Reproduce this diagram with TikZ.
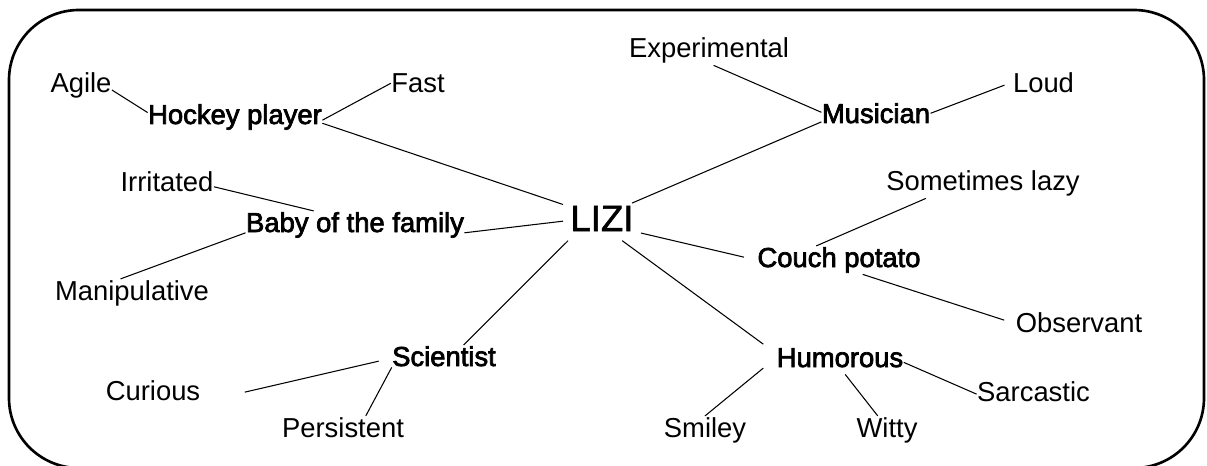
\documentclass[tikz,border=0pt]{standalone}
\usepackage{fontspec}
\setmainfont{Liberation Sans}
\newfontfamily\demifont[FakeBold=2.6]{Liberation Sans}
\newfontfamily\hubfont[FakeBold=1.6]{Liberation Sans}
\usetikzlibrary{calc}

\begin{document}
\begin{tikzpicture}[x=0.02cm, y=-0.02cm, line width=0.6pt,
    word/.style={anchor=base, inner sep=0pt, text height=11.7pt, text depth=3.9pt,
      font=\fontsize{15.6pt}{18pt}\selectfont},
    role/.style={word, font=\fontsize{15.6pt}{18pt}\demifont},
    hub/.style={anchor=base, inner xsep=4pt, inner ysep=0pt, text height=15.6pt,
      text depth=5.2pt, font=\fontsize{20.8pt}{24pt}\hubfont}]
    \useasboundingbox (0,0) rectangle (1207,466);
    \draw [line width=1.5pt, rounded corners=1.4cm] (9,10) rectangle (1204,468);
    % centre and the six roles
    \node (lizi) at (602,231) [hub] {LIZI};
    \node (hockey) at (235,124) [role] {Hockey player};
    \node (baby) at (355,232) [role] {Baby of the family};
    \node (scientist) at (444,366) [role] {Scientist};
    \node (musician) at (876,123) [role] {Musician};
    \node (couch) at (839,267) [role] {Couch potato};
    \node (humorous) at (840,367) [role] {Humorous};
    % traits
    \node (agile) at (81,92) [word] {Agile};
    \node (fast) at (418,92) [word] {Fast};
    \node (irritated) at (167,192) [word] {Irritated};
    \node (manip) at (132,300) [word] {Manipulative};
    \node (curious) at (153,400) [word] {Curious};
    \node (persistent) at (343,437) [word] {Persistent};
    \node (exper) at (709,58) [word] {Experimental};
    \node (loud) at (1043.5,92) [word] {Loud};
    \node (lazy) at (983,191) [word] {Sometimes lazy};
    \node (obs) at (1079,332) [word] {Observant};
    \node (sarcastic) at (1033.5,401) [word] {Sarcastic};
    \node (smiley) at (705,437) [word] {Smiley};
    \node (witty) at (887,437) [word] {Witty};
    % links
    \draw (agile.-9) -- (hockey.177);
    \draw (hockey.-2) -- (fast.176);
    \draw (hockey.-4) -- (lizi.156);
    \draw (irritated.-2) -- (baby.161);
    \draw (baby.184) -- (manip.129);
    \draw (baby.-4) -- (lizi.179);
    \draw (exper.-72) -- (musician.176);
    \draw (musician.186) -- (lizi.32);
    \draw (musician.3) -- ($(loud.west)+(-8,0)$);
    \draw (lizi.-16) -- ($(couch.west)+(-13,-3)$);
    \draw (lazy.194) -- (couch.148);
    \draw (couch.-31) -- ($(obs.west)+(-11,-5)$);
    \draw (lizi.209) -- (scientist.36);
    \draw ($(scientist.west)+(-13,2)$) -- ($(curious.east)+(44,-1)$);
    \draw (scientist.189) -- (persistent.32);
    \draw (lizi.-43) -- ($(humorous.west)+(-13,-16)$);
    \draw ($(humorous.west)+(-13,8)$) -- (smiley.north);
    \draw (humorous.-70) -- (witty.123);
    \draw (humorous.-2) -- (sarcastic.west);
\end{tikzpicture}
\end{document}
